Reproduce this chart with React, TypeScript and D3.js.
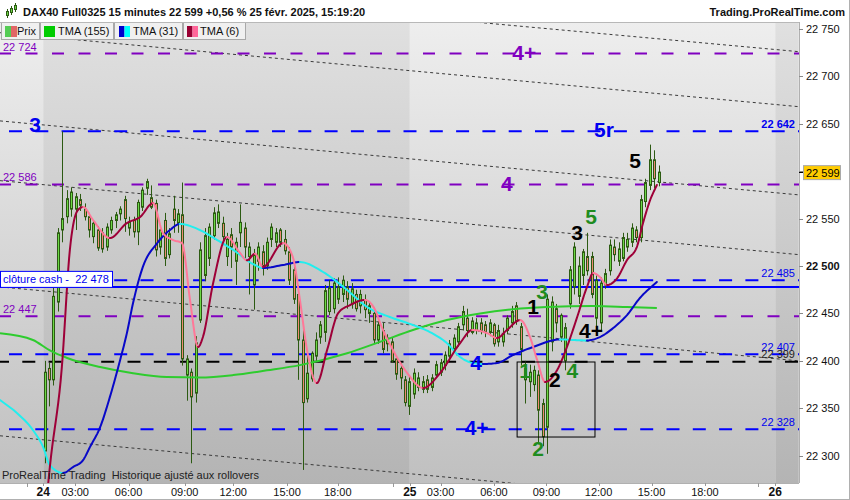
import React from 'react';
import * as d3 from 'd3';

// ---------- DATA ----------
const barOpen = [22305,22392,22380,22462,22538,22552,22560,22560,22570,22560,22552,22531,22538,22535,22520,22538,22548,22555,22570,22540,22548,22536,22562,22582,22572,22566,22520,22548,22512,22560,22545,22554,22385,22388,22366,22443,22490,22508,22532,22545,22545,22510,22533,22505,22535,22540,22510,22480,22505,22515,22500,22528,22525,22538,22528,22515,22496,22470,22422,22360,22381,22405,22425,22430,22452,22455,22465,22470,22478,22460,22470,22458,22464,22450,22450,22422,22432,22418,22420,22402,22392,22380,22352,22365,22372,22370,22380,22372,22385,22388,22395,22405,22412,22420,22438,22445,22430,22432,22440,22438,22430,22438,22420,22420,22432,22440,22458,22436,22380,22378,22375,22385,22355,22330,22420,22455,22425,22400,22460,22478,22468,22490,22510,22510,22445,22440,22480,22495,22520,22505,22508,22520,22525,22538,22530,22568,22585,22612,22588];
const barHigh = [22400,22398,22485,22540,22642,22580,22583,22577,22576,22566,22556,22548,22542,22540,22545,22552,22557,22563,22574,22552,22552,22570,22583,22592,22585,22570,22540,22556,22540,22574,22560,22588,22406,22392,22426,22525,22540,22545,22562,22565,22552,22535,22540,22530,22565,22546,22525,22518,22525,22522,22530,22545,22540,22540,22538,22520,22505,22480,22436,22411,22410,22430,22442,22480,22485,22487,22488,22490,22484,22482,22475,22475,22470,22462,22456,22442,22440,22428,22424,22405,22398,22384,22385,22392,22388,22384,22385,22386,22400,22402,22410,22422,22428,22440,22458,22455,22446,22445,22445,22442,22444,22440,22438,22435,22448,22458,22462,22440,22400,22396,22395,22390,22360,22470,22468,22460,22450,22440,22500,22525,22510,22518,22535,22515,22490,22488,22497,22528,22528,22525,22535,22535,22545,22542,22575,22592,22628,22622,22606];
const barLow = [22292,22352,22374,22452,22525,22545,22552,22538,22558,22548,22530,22524,22516,22514,22516,22534,22540,22548,22536,22532,22530,22522,22558,22575,22560,22510,22512,22500,22508,22535,22535,22395,22358,22292,22356,22440,22484,22500,22528,22540,22522,22500,22498,22480,22520,22508,22470,22454,22495,22490,22496,22520,22520,22520,22512,22480,22460,22380,22285,22356,22378,22400,22418,22420,22448,22450,22460,22462,22455,22455,22452,22450,22445,22440,22418,22418,22408,22410,22398,22380,22370,22352,22343,22360,22368,22366,22366,22368,22382,22384,22390,22400,22410,22415,22432,22425,22428,22428,22428,22425,22426,22415,22415,22415,22428,22435,22438,22395,22355,22362,22368,22312,22310,22302,22410,22430,22420,22390,22455,22470,22460,22480,22490,22466,22430,22432,22476,22490,22505,22500,22505,22515,22520,22525,22525,22562,22580,22582,22584];
const barClose = [22388,22380,22468,22535,22550,22571,22578,22573,22564,22552,22538,22545,22519,22518,22541,22548,22554,22560,22550,22546,22536,22567,22580,22589,22562,22517,22538,22508,22534,22548,22555,22402,22402,22362,22419,22517,22532,22541,22556,22557,22531,22528,22520,22525,22546,22520,22520,22512,22520,22500,22525,22541,22535,22525,22516,22485,22465,22422,22356,22387,22408,22422,22438,22474,22477,22482,22478,22485,22465,22476,22455,22470,22454,22458,22422,22438,22412,22424,22400,22386,22382,22356,22378,22387,22382,22378,22370,22382,22396,22398,22406,22418,22424,22436,22452,22432,22442,22440,22432,22430,22440,22418,22432,22428,22445,22452,22442,22412,22392,22388,22390,22348,22320,22465,22462,22440,22448,22435,22496,22520,22500,22515,22495,22470,22485,22482,22492,22522,22512,22518,22530,22528,22540,22530,22570,22588,22612,22592,22599];

// moving averages: bar index / value
const tma155Idx = [-10,-2.6,1.2,5.1,12.5,19.9,27.5,34.9,42.4,50,57.4,68,75.4,82.8,90.4,97.9,105.3,112.9,123.3,130.9,137.6];
const tma155Val = [22429,22422,22411,22403,22393.5,22387,22383,22382.5,22385,22390,22395.5,22408,22420,22432.5,22443,22450,22454.5,22456.8,22457.8,22456.8,22455.7];

const tma31Idx = [-10,-6.2,-2.6,-0.3,1.2,4.2,6.4,8.7,10.2,12.5,14.7,17,18.5,19.9,22.1,25.3,28.2,30.4,34.9,38.8,42.4,46.9,49.1,53.6,57.4,62.6,68,72.5,77.6,82.8,86.6,90.4,93.4,96.3,98.5,101.7,105.3,109.8,115.8,119.2,121.9,124.8,127.8,130.9,133.8,137.6];
const tma31Val = [22358.7,22345,22327,22309,22290,22281.8,22288,22295.5,22309,22330,22362,22401,22429,22461,22499,22524,22538,22544.3,22538,22527.4,22517,22502,22497.9,22501.1,22504.2,22493.7,22474.7,22456.8,22446.2,22437.8,22430.4,22418.8,22404.1,22397.7,22396.7,22397.7,22406.2,22414.6,22422.6,22421.9,22421.5,22425.1,22434.6,22448.3,22466.3,22483.1];

const tma6Idx = [0.2,1.2,3.9,5.7,7.5,8.7,10.9,14.7,18.5,21.5,24.4,26.6,28.9,30.9,32.7,34.5,35.6,37.9,41,43.9,45.5,47.3,49.1,53.6,55.8,57.4,59,61.2,63.5,66,68.7,72,74.3,75.4,78.3,81.5,85.1,88.9,93.4,96.1,99.4,101.7,103.9,106.9,109.1,110.7,112.5,115.2,117.4,119.7,121.9,123.3,124.8,126.4,128.7,130.9,133.1,134.5,136.1,137.6];
const tma6Val = [22240,22288,22393.5,22517,22559,22562.2,22548.5,22529.5,22545.3,22551.7,22566.4,22534.8,22527.4,22524.2,22464.2,22414.6,22425.1,22482.1,22530.6,22514,22506,22513,22499,22524.2,22509.5,22464.2,22411.4,22376.6,22411.4,22450.4,22458.9,22464.2,22453.6,22440,22411.4,22387.2,22371.4,22387.2,22418.8,22432.5,22429.4,22424.1,22432.5,22443,22425.1,22401,22377.7,22390.4,22414.6,22446.2,22477.9,22492.6,22488.4,22480,22487.3,22506.3,22520,22545.3,22569.6,22585.4];

// horizontal levels
const purpleLevels = [22724, 22586, 22447];
const blueLevels = [22642, 22485, 22407, 22328];
const blackLevels = [22399];
const cashClose = 22478;

// oblique channel lines: price at left edge / right edge of the chart
const channelStartIdx = -10;
const channelEndIdx = 169.5;
const channelStart = [22803, 22746, 22653, 22590, 22478, 22321];
const channelEnd = [22726, 22668, 22575, 22512, 22400, 22243];

// wave count annotations
const waveText = ['3','4+','5r','4','5','5','3','3','1','4+','4','1','2','4','4+','2'];
const waveDegree = ['blue','purple','blue','purple','black','green','black','green','black','black','blue','green','black','green','blue','green'];
const waveIdx = [-2.1,107.8,125.7,103.9,132.7,122.8,119.7,111.8,109.8,122.8,97.0,108.0,114.7,118.6,97.1,110.9];
const wavePrice = [22649.2,22725.1,22644.4,22587,22611.2,22551.7,22535.8,22473.6,22457.3,22432.5,22398.3,22389.8,22380.3,22389.8,22329.7,22308.1];

// highlighted box
const boxIdx = [106.2, 123.7];
const boxPrice = [22398.8, 22319.7];

// axes
const priceTicks = [22750, 22700, 22650, 22600, 22550, 22500, 22450, 22400, 22350, 22300];
const timeLabels = ['24','03:00','06:00','09:00','12:00','15:00','18:00','25','03:00','06:00','09:00','12:00','15:00','18:00','26'];
const timeIdx = [-0.3, 6.9, 18.9, 31.5, 42.4, 54.5, 65.9, 82.1, 89, 101, 112.8, 124.5, 136.4, 148.4, 164.2];
const minorTimeIdx = [-3.9, 78.2, 160.3];
const dayBounds = [-10, -0.3, 82.1, 164.2, 169.5];
const lastPrice = 22599;

// ---------- HELPERS ----------
const FONT = 'Liberation Sans, Arial, sans-serif';
const fmt = (v: number) => {
  const s = String(Math.round(v));
  return s.slice(0, s.length - 3) + ' ' + s.slice(s.length - 3);
};

function sampleMonotone(xs: number[], ys: number[], steps = 10): [number, number][] {
  const n = xs.length;
  const h: number[] = [], s: number[] = [];
  for (let i = 0; i < n - 1; i++) {
    h[i] = xs[i + 1] - xs[i];
    s[i] = (ys[i + 1] - ys[i]) / h[i];
  }
  const t: number[] = new Array(n).fill(0);
  for (let i = 1; i < n - 1; i++) {
    const p = (s[i - 1] * h[i] + s[i] * h[i - 1]) / (h[i - 1] + h[i]);
    t[i] = (Math.sign(s[i - 1]) + Math.sign(s[i])) * Math.min(Math.abs(s[i - 1]), Math.abs(s[i]), 0.5 * Math.abs(p)) || 0;
  }
  t[0] = s[0];
  t[n - 1] = s[n - 2];
  const out: [number, number][] = [];
  for (let i = 0; i < n - 1; i++) {
    for (let k = 0; k < steps; k++) {
      const u = k / steps;
      const u2 = u * u, u3 = u2 * u;
      const yv = (2 * u3 - 3 * u2 + 1) * ys[i] + (u3 - 2 * u2 + u) * h[i] * t[i] + (-2 * u3 + 3 * u2) * ys[i + 1] + (u3 - u2) * h[i] * t[i + 1];
      out.push([xs[i] + u * h[i], yv]);
    }
  }
  out.push([xs[n - 1], ys[n - 1]]);
  return out;
}

function directionalRuns(xs: number[], ys: number[]) {
  const pts = sampleMonotone(xs, ys);
  const runs: { up: boolean; pts: [number, number][] }[] = [];
  for (let i = 0; i < pts.length - 1; i++) {
    const up = pts[i + 1][1] >= pts[i][1];
    const last = runs[runs.length - 1];
    if (last && last.up === up) last.pts.push(pts[i + 1]);
    else runs.push({ up, pts: [pts[i], pts[i + 1]] });
  }
  return runs;
}

export default function App() {
  const PL = 0, PR = 799, PT = 22, PB = 483;
  const x = d3.scaleLinear().domain([-10, 169.5]).range([0, 798.8]);
  const y = d3.scaleLinear().domain([22300, 22750]).range([455.7, 28.9]);
  const line = d3.line<[number, number]>().x(d => x(d[0])).y(d => y(d[1]));
  const curve155 = d3.line<number>().x((_, i) => x(tma155Idx[i])).y(d => y(d)).curve(d3.curveMonotoneX);

  const runs31 = directionalRuns(tma31Idx, tma31Val);
  const runs6 = directionalRuns(tma6Idx, tma6Val);

  const waveColor: Record<string, string> = { blue: '#0000f0', purple: '#8000c0', green: '#1f8c1f', black: '#000000' };
  const outline = '#2c5a12';

  const bands = dayBounds.slice(0, -1).map((b, i) => ({ x0: x(b), x1: x(dayBounds[i + 1]), light: i % 2 === 0 }));

  return (
    <svg width={850} height={500} style={{ position: 'fixed', left: 0, top: 0, display: 'block', background: '#fff' }} fontFamily={FONT}>
      <defs>
        <linearGradient id="gLight" gradientUnits="userSpaceOnUse" x1="0" y1={PT} x2="0" y2={PB}>
          <stop offset="0" stopColor="#eeeeee" />
          <stop offset="1" stopColor="#c0c0c0" />
        </linearGradient>
        <linearGradient id="gDark" gradientUnits="userSpaceOnUse" x1="0" y1={PT} x2="0" y2={PB}>
          <stop offset="0" stopColor="#e0e0e0" />
          <stop offset="1" stopColor="#b4b4b4" />
        </linearGradient>
        <clipPath id="plotClip">
          <rect x={PL} y={PT} width={PR - PL} height={PB - PT} />
        </clipPath>
      </defs>

      {/* background bands */}
      {bands.map((b, i) => (
        <rect key={i} x={b.x0} y={PT} width={b.x1 - b.x0} height={PB - PT} fill={b.light ? 'url(#gLight)' : 'url(#gDark)'} />
      ))}

      <g clipPath="url(#plotClip)">
        {/* channel lines */}
        {channelStart.map((p, i) => (
          <line key={i} x1={x(channelStartIdx)} y1={y(p)} x2={x(channelEndIdx)} y2={y(channelEnd[i])}
            stroke="#3a3a3a" strokeWidth={1} strokeDasharray="3,3" />
        ))}
        {/* horizontal levels */}
        {purpleLevels.map((p, i) => (
          <line key={'p' + i} x1={PL} x2={PR} y1={y(p)} y2={y(p)} stroke="#8000c0" strokeWidth={2} strokeDasharray="12,14.5" strokeDashoffset={1} />
        ))}
        {blueLevels.map((p, i) => (
          <line key={'b' + i} x1={PL} x2={PR} y1={y(p)} y2={y(p)} stroke="#0000ff" strokeWidth={2} strokeDasharray="13,13.3" strokeDashoffset={17.3} />
        ))}
        {blackLevels.map((p, i) => (
          <line key={'k' + i} x1={PL} x2={PR} y1={y(p)} y2={y(p)} stroke="#000" strokeWidth={2} strokeDasharray="13,13.3" strokeDashoffset={4} />
        ))}
        <line x1={PL} x2={PR} y1={y(cashClose)} y2={y(cashClose)} stroke="#0000ff" strokeWidth={2} />

        {/* candles */}
        {barClose.map((c, i) => {
          const o = barOpen[i];
          const r = Math.round(x(i));
          const top = y(Math.max(o, c));
          const bot = y(Math.min(o, c));
          return (
            <g key={i}>
              <line x1={r + 0.5} x2={r + 0.5} y1={y(barHigh[i])} y2={y(barLow[i])} stroke={outline} strokeWidth={1} />
              <rect x={r - 0.5} y={top} width={2} height={Math.max(1, bot - top)} fill={c >= o ? '#6cd846' : '#ee8a74'} stroke={outline} strokeWidth={1} />
            </g>
          );
        })}

        {/* moving averages */}
        <path d={curve155(tma155Val) || ''} fill="none" stroke="#2ecc2e" strokeWidth={2} />
        {runs31.map((r, i) => (
          <path key={'m31' + i} d={line(r.pts) || ''} fill="none" stroke={r.up ? '#0808c8' : '#22eeee'} strokeWidth={2} strokeLinecap="round" />
        ))}
        {runs6.map((r, i) => (
          <path key={'m6' + i} d={line(r.pts) || ''} fill="none" stroke={r.up ? '#9e0038' : '#ff7898'} strokeWidth={2} strokeLinecap="round" />
        ))}

        {/* box */}
        <rect x={x(boxIdx[0])} y={y(boxPrice[0])} width={x(boxIdx[1]) - x(boxIdx[0])} height={y(boxPrice[1]) - y(boxPrice[0])}
          fill="none" stroke="#000" strokeWidth={1} />

        {/* level labels */}
        {purpleLevels.map((p, i) => (
          <text key={'pl' + i} x={3} y={y(p) - 3} fontSize={11} fill="#8000c0">{fmt(p)}</text>
        ))}
        {blueLevels.map((p, i) => (
          <text key={'bl' + i} x={795} y={y(p) - 3} fontSize={11} fill="#0000f0" textAnchor="end" fontWeight={i === 0 ? 'bold' : 'normal'}>{fmt(p)}</text>
        ))}
        {blackLevels.map((p, i) => (
          <text key={'kl' + i} x={795} y={y(p) - 4} fontSize={11} fill="#222" textAnchor="end">{fmt(p)}</text>
        ))}

        {/* wave labels */}
        {waveText.map((t, i) => (
          <text key={'w' + i} x={x(waveIdx[i])} y={y(wavePrice[i]) + 7.5} fontSize={21} fontWeight="bold" textAnchor="middle" fill={waveColor[waveDegree[i]]}>{t}</text>
        ))}

        {/* cash close label */}
        <rect x={0.5} y={y(cashClose) - 15.5} width={112} height={16} fill="#fff" stroke="#0000ff" strokeWidth={1} />
        <text x={3} y={y(cashClose) - 3.5} fontSize={11} fill="#0000f0" style={{ whiteSpace: 'pre' }}>{'clôture cash -  ' + fmt(cashClose)}</text>

        <text x={2} y={479} fontSize={11} fill="#222" style={{ whiteSpace: 'pre' }}>ProRealTime Trading  Historique ajusté aux rollovers</text>
      </g>

      {/* legend */}
      <g fontSize={11} fill="#111">
        <rect x={1.5} y={22.5} width={38} height={17} fill="#f0f0f0" stroke="#a8a8a8" />
        <text x={17} y={35}>Prix</text>
        <rect x={5} y={26} width={6} height={11} fill="#55cc55" />
        <rect x={11} y={26} width={6} height={11} fill="#e06666" />

        <rect x={40.5} y={22.5} width={73} height={17} fill="#f0f0f0" stroke="#a8a8a8" />
        <rect x={44} y={26} width={11} height={11} fill="#00cc00" />
        <text x={58} y={35}>TMA (155)</text>

        <rect x={114.5} y={22.5} width={68} height={17} fill="#f0f0f0" stroke="#a8a8a8" />
        <rect x={119} y={26} width={5.5} height={11} fill="#0000cc" />
        <rect x={124.5} y={26} width={5.5} height={11} fill="#00ffff" />
        <text x={133} y={35}>TMA (31)</text>

        <rect x={183.5} y={22.5} width={62} height={17} fill="#f0f0f0" stroke="#a8a8a8" />
        <rect x={187} y={26} width={5.5} height={11} fill="#990033" />
        <rect x={192.5} y={26} width={5.5} height={11} fill="#ff6699" />
        <text x={200} y={35}>TMA (6)</text>
      </g>

      {/* header */}
      <rect x={0} y={0} width={850} height={22} fill="#fff" />
      <line x1={0} x2={850} y1={22.5} y2={22.5} stroke="#b8b8b8" />
      <g>
        <line x1={7.5} x2={7.5} y1={9} y2={18} stroke="#2c5a12" />
        <rect x={6.5} y={11.5} width={2} height={4} fill="#6cd846" stroke="#2c5a12" />
        <line x1={11.5} x2={11.5} y1={6} y2={15} stroke="#2c5a12" />
        <rect x={10.5} y={8.5} width={2} height={4} fill="#6cd846" stroke="#2c5a12" />
        <line x1={15.5} x2={15.5} y1={3} y2={12} stroke="#2c5a12" />
        <rect x={14.5} y={5.5} width={2} height={4} fill="#6cd846" stroke="#2c5a12" />
      </g>
      <text x={23} y={16} fontSize={11} fontWeight="bold" fill="#111">DAX40 Full0325 15 minutes 22 599 +0,56 % 25 févr. 2025, 15:19:20</text>
      <text x={845} y={16} fontSize={11} fontWeight="bold" fill="#111" textAnchor="end">Trading.ProRealTime.com</text>

      {/* right axis */}
      <rect x={PR} y={PT} width={850 - PR} height={PB - PT} fill="#fff" />
      <line x1={PR + 0.5} x2={PR + 0.5} y1={PT} y2={PB} stroke="#b0b0b0" />
      {priceTicks.map((p, i) => (
        <g key={'pt' + i}>
          <line x1={PR} x2={PR + 4} y1={Math.round(y(p)) + 0.5} y2={Math.round(y(p)) + 0.5} stroke="#888" />
          <text x={806} y={y(p) + 4} fontSize={11} fill="#111" fontWeight={p === 22500 ? 'bold' : 'normal'}>{fmt(p)}</text>
        </g>
      ))}
      <line x1={PR} x2={PR + 4} y1={Math.round(y(lastPrice)) + 0.5} y2={Math.round(y(lastPrice)) + 0.5} stroke="#000" />
      <rect x={803.5} y={y(lastPrice) - 6.5} width={37} height={14} fill="#ffcc00" stroke="#aaa" />
      <text x={806} y={y(lastPrice) + 4.5} fontSize={11} fill="#000">{fmt(lastPrice)}</text>

      {/* bottom axis */}
      <rect x={0} y={PB} width={850} height={500 - PB} fill="#fff" />
      <line x1={0} x2={PR} y1={PB + 0.5} y2={PB + 0.5} stroke="#b0b0b0" />
      {minorTimeIdx.map((t, i) => (
        <line key={'mt' + i} x1={Math.round(x(t)) + 0.5} x2={Math.round(x(t)) + 0.5} y1={PB} y2={PB + 4} stroke="#999" />
      ))}
      {timeLabels.map((t, i) => (
        <g key={'tl' + i}>
          <line x1={Math.round(x(timeIdx[i])) + 0.5} x2={Math.round(x(timeIdx[i])) + 0.5} y1={PB} y2={PB + 3} stroke="#999" />
          <text x={x(timeIdx[i])} y={496} fontSize={t.includes(':') ? 11 : 12} fontWeight={t.includes(':') ? 'normal' : 'bold'} textAnchor="middle" fill="#111">{t}</text>
        </g>
      ))}
      <line x1={849.5} x2={849.5} y1={0} y2={500} stroke="#b0b0b0" />
      <line x1={0} x2={850} y1={499.5} y2={499.5} stroke="#b0b0b0" />
    </svg>
  );
}
